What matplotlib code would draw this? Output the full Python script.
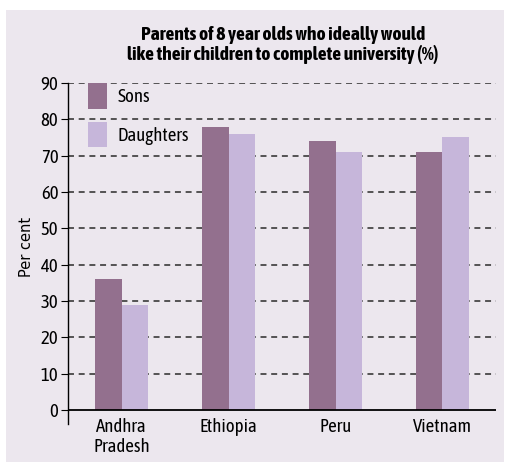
import matplotlib
matplotlib.use("Agg")
import matplotlib.pyplot as plt
from matplotlib.patches import Rectangle
import numpy as np

categories = ["Andhra\nPradesh", "Ethiopia", "Peru", "Vietnam"]
sons = [36, 78, 74, 71]
daughters = [29, 76, 71, 75]
yticks = [0, 10, 20, 30, 40, 50, 60, 70, 80, 90]

bg = "#ECE7EE"
sons_color = "#93708E"
daughters_color = "#C6B6DA"
cond = ["Asap Condensed", "Barlow Semi Condensed", "DejaVu Sans"]

plt.rcParams["lines.scale_dashes"] = False

fig = plt.figure(figsize=(5.08, 4.62), dpi=100)
fig.patch.set_facecolor("white")
# shaded panel behind the whole chart
fig.add_artist(Rectangle((6 / 508, 0), 498 / 508, 452 / 462,
                         transform=fig.transFigure, facecolor=bg,
                         edgecolor="none", zorder=-5))

ax = fig.add_axes([68 / 508, 38 / 462, 428 / 508, 341 / 462])
ax.set_facecolor(bg)

x = np.arange(len(categories))
w = 0.25
ax.bar(x - w / 2, sons, w, color=sons_color, label="Sons", zorder=3)
ax.bar(x + w / 2, daughters, w, color=daughters_color, label="Daughters", zorder=3)

ax.set_xlim(-0.5, 3.5)
ax.set_ylim(-3.9, 90)
ax.set_yticks(yticks)
ax.set_yticklabels([str(v) for v in yticks], fontsize=13.5, family=cond)
ax.set_xticks(x)
ax.set_xticklabels(categories, fontsize=13.5, linespacing=1.1, family=cond)
ax.tick_params(axis="x", length=0, pad=-4)
ax.tick_params(axis="y", length=5, width=0.8, pad=2)

for s in ["top", "right", "bottom"]:
    ax.spines[s].set_visible(False)
ax.spines["left"].set_linewidth(1)

for v in yticks[1:]:
    ax.axhline(v, color="#2a2a2a", lw=1.1, linestyle=(0, (4.3, 3.4)), zorder=1)
ax.axhline(0, color="black", lw=1.3, zorder=4)

ax.set_ylabel("Per cent", family="DejaVu Sans", fontsize=10.5)
ax.yaxis.set_label_coords(-0.08, 0.52)

leg = ax.legend(loc="upper left", bbox_to_anchor=(0.047, 1.0), frameon=False,
                prop={"size": 13.5, "family": cond}, handlelength=1.0,
                handleheight=1.72, labelspacing=0.7, handletextpad=0.55,
                borderpad=0, borderaxespad=0)

fig.text(283 / 508, 1 - 45 / 462,
         "Parents of 8 year olds who ideally would\nlike their children to complete university (%)",
         ha="center", va="center", fontweight="bold",
         fontsize=14, linespacing=1.1, family=cond)

fig.savefig("out.png", dpi=100, facecolor=fig.get_facecolor())
